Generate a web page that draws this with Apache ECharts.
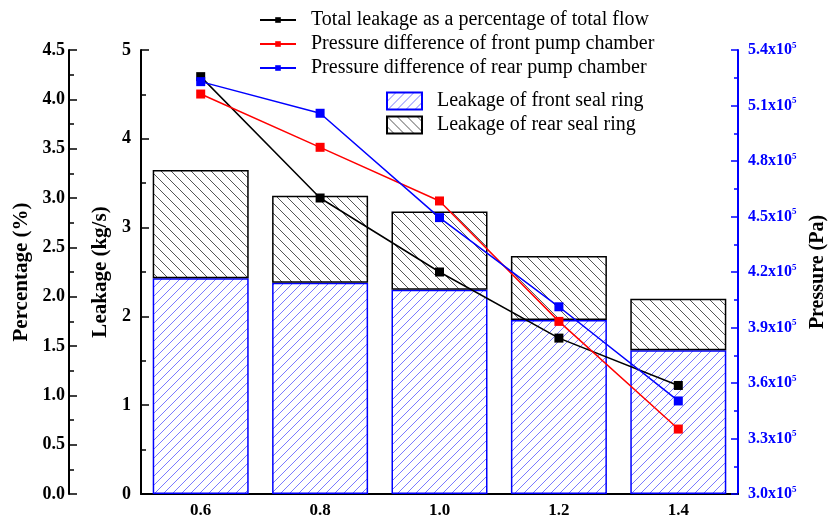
<!DOCTYPE html>
<html>
<head>
<meta charset="utf-8">
<script src="https://cdn.jsdelivr.net/npm/echarts@6/dist/echarts.min.js"></script>
<style>
  html, body { margin: 0; padding: 0; background: #fff; }
  #chart { width: 828px; height: 520px; }
</style>
</head>
<body>
<div id="chart"></div>
<script>
// Flow ratio categories
const categories = ['0.6', '0.8', '1.0', '1.2', '1.4'];

// Leakage (kg/s), stacked bars
const frontSealLeakage = [2.43, 2.38, 2.30, 1.96, 1.62];
const rearSealLeakage = [1.22, 0.98, 0.88, 0.72, 0.58];

// Total leakage as a percentage of total flow (%)
const leakagePercent = [4.23, 3.00, 2.25, 1.58, 1.10];

// Pressure differences (Pa)
const frontChamberPressure = [516200, 487400, 458400, 393300, 335100];
const rearChamberPressure = [522900, 505800, 449400, 401200, 350300];

const SERIF = '"Liberation Serif", "Times New Roman", serif';

// Hatch fills for the bars
function hatch(color, forward, step) {
  const c = document.createElement('canvas');
  c.width = step; c.height = step;
  const g = c.getContext('2d');
  g.fillStyle = '#fff';
  g.fillRect(0, 0, step, step);
  g.strokeStyle = color;
  g.lineWidth = 1;
  g.beginPath();
  if (forward) {
    g.moveTo(-1, step + 1); g.lineTo(step + 1, -1);
    g.moveTo(-2, 1); g.lineTo(1, -2);
    g.moveTo(step - 1, step + 2); g.lineTo(step + 2, step - 1);
  } else {
    g.moveTo(-1, -1); g.lineTo(step + 1, step + 1);
    g.moveTo(step - 1, -2); g.lineTo(step + 2, 1);
    g.moveTo(-2, step - 1); g.lineTo(1, step + 2);
  }
  g.stroke();
  return { image: c, repeat: 'repeat' };
}

const frontFill = hatch('#7a7aff', true, 9);
const rearFill = hatch('#555555', false, 10);

const chart = echarts.init(document.getElementById('chart'), null, { renderer: 'canvas' });

const tickLabel = { fontFamily: SERIF, fontWeight: 'bold', fontSize: 18, color: '#000' };
const nameStyle = { fontFamily: SERIF, fontWeight: 'bold', fontSize: 21, color: '#000' };
const legendText = { fontFamily: SERIF, fontSize: 20, color: '#000', padding: [0, 0, 0, 10] };

const option = {
  backgroundColor: '#fff',
  animation: false,
  grid: { left: 141, right: 90, top: 50, bottom: 26, containLabel: false, outerBoundsMode: 'none' },
  legend: [
    {
      data: ['Total leakage as a percentage of total flow',
             'Pressure difference of front pump chamber',
             'Pressure difference of rear pump chamber'],
      orient: 'vertical',
      left: 254, top: 5,
      itemWidth: 36, itemHeight: 7, itemGap: 4,
      textStyle: legendText
    },
    {
      data: ['Leakage of front seal ring', 'Leakage of rear seal ring'],
      orient: 'vertical',
      left: 381, top: 86,
      icon: 'rect',
      itemWidth: 35, itemHeight: 17, itemGap: 4,
      textStyle: legendText
    }
  ],
  xAxis: [
    {
      type: 'category',
      data: categories,
      axisLine: { lineStyle: { color: '#000', width: 2 } },
      axisTick: { alignWithLabel: true, inside: true, length: 7, lineStyle: { color: '#000', width: 1.5 } },
      axisLabel: { margin: 8, fontSize: 17, fontFamily: SERIF, fontWeight: 'bold', color: '#000' },
      splitLine: { show: false }
    },
    {
      // boundary ticks between categories
      type: 'category',
      data: categories,
      position: 'bottom',
      axisLine: { show: false },
      axisTick: { inside: true, length: 3, lineStyle: { color: '#000', width: 1.5 } },
      axisLabel: { show: false },
      splitLine: { show: false }
    }
  ],
  yAxis: [
    {
      type: 'value',
      name: 'Percentage (%)',
      nameLocation: 'middle',
      nameRotate: 90,
      nameGap: 33,
      nameTextStyle: nameStyle,
      position: 'left',
      offset: 72,
      min: 0, max: 4.5, interval: 0.5,
      axisLine: { show: true, lineStyle: { color: '#000', width: 2 } },
      axisTick: { show: true, inside: true, length: 8, lineStyle: { color: '#000', width: 1.5 } },
      minorTick: { show: true, splitNumber: 2, length: 5, lineStyle: { color: '#000', width: 1.5 } },
      axisLabel: Object.assign({ margin: 4, formatter: v => v.toFixed(1) }, tickLabel),
      splitLine: { show: false }
    },
    {
      type: 'value',
      name: 'Leakage (kg/s)',
      nameLocation: 'middle',
      nameRotate: 90,
      nameGap: 17,
      nameTextStyle: nameStyle,
      position: 'left',
      min: 0, max: 5, interval: 1,
      axisLine: { show: true, lineStyle: { color: '#000', width: 2 } },
      axisTick: { show: true, inside: true, length: 8, lineStyle: { color: '#000', width: 1.5 } },
      minorTick: { show: true, splitNumber: 2, length: 5, lineStyle: { color: '#000', width: 1.5 } },
      axisLabel: Object.assign({ margin: 10 }, tickLabel),
      splitLine: { show: false }
    },
    {
      type: 'value',
      name: 'Pressure (Pa)',
      nameLocation: 'middle',
      nameRotate: 90,
      nameGap: 70,
      nameTextStyle: Object.assign({}, nameStyle, { fontSize: 20 }),
      position: 'right',
      min: 300000, max: 540000, interval: 30000,
      axisLine: { show: true, lineStyle: { color: '#0000ff', width: 2 } },
      axisTick: { show: true, inside: true, length: 7, lineStyle: { color: '#0000ff', width: 1.5 } },
      minorTick: { show: true, splitNumber: 2, length: 4, lineStyle: { color: '#0000ff', width: 1.5 } },
      axisLabel: {
        margin: 10,
        formatter: v => '{a|' + (v / 1e5).toFixed(1) + 'x10}{s|5}',
        rich: {
          a: { fontFamily: SERIF, fontWeight: 'bold', fontSize: 16, color: '#0000ff' },
          s: { fontFamily: SERIF, fontWeight: 'bold', fontSize: 9, color: '#0000ff', padding: [0, 0, 9, 0] }
        }
      },
      splitLine: { show: false }
    }
  ],
  series: [
    {
      name: 'Leakage of front seal ring',
      type: 'bar',
      stack: 'leak',
      yAxisIndex: 1,
      barWidth: 96,
      data: frontSealLeakage,
      itemStyle: { color: frontFill, borderColor: '#0000ff', borderWidth: 1.5 }
    },
    {
      name: 'Leakage of rear seal ring',
      type: 'bar',
      stack: 'leak',
      yAxisIndex: 1,
      barWidth: 96,
      data: rearSealLeakage,
      itemStyle: { color: rearFill, borderColor: '#000', borderWidth: 1.5 }
    },
    {
      name: 'Total leakage as a percentage of total flow',
      type: 'line',
      yAxisIndex: 0,
      z: 5,
      data: leakagePercent,
      symbol: 'rect', symbolSize: 9,
      lineStyle: { color: '#000', width: 1.5 },
      itemStyle: { color: '#000' }
    },
    {
      name: 'Pressure difference of front pump chamber',
      type: 'line',
      yAxisIndex: 2,
      z: 5,
      data: frontChamberPressure,
      symbol: 'rect', symbolSize: 9,
      lineStyle: { color: '#ff0000', width: 1.5 },
      itemStyle: { color: '#ff0000' }
    },
    {
      name: 'Pressure difference of rear pump chamber',
      type: 'line',
      yAxisIndex: 2,
      z: 5,
      data: rearChamberPressure,
      symbol: 'rect', symbolSize: 9,
      lineStyle: { color: '#0000ff', width: 1.5 },
      itemStyle: { color: '#0000ff' }
    }
  ]
};

chart.setOption(option);
</script>
</body>
</html>
